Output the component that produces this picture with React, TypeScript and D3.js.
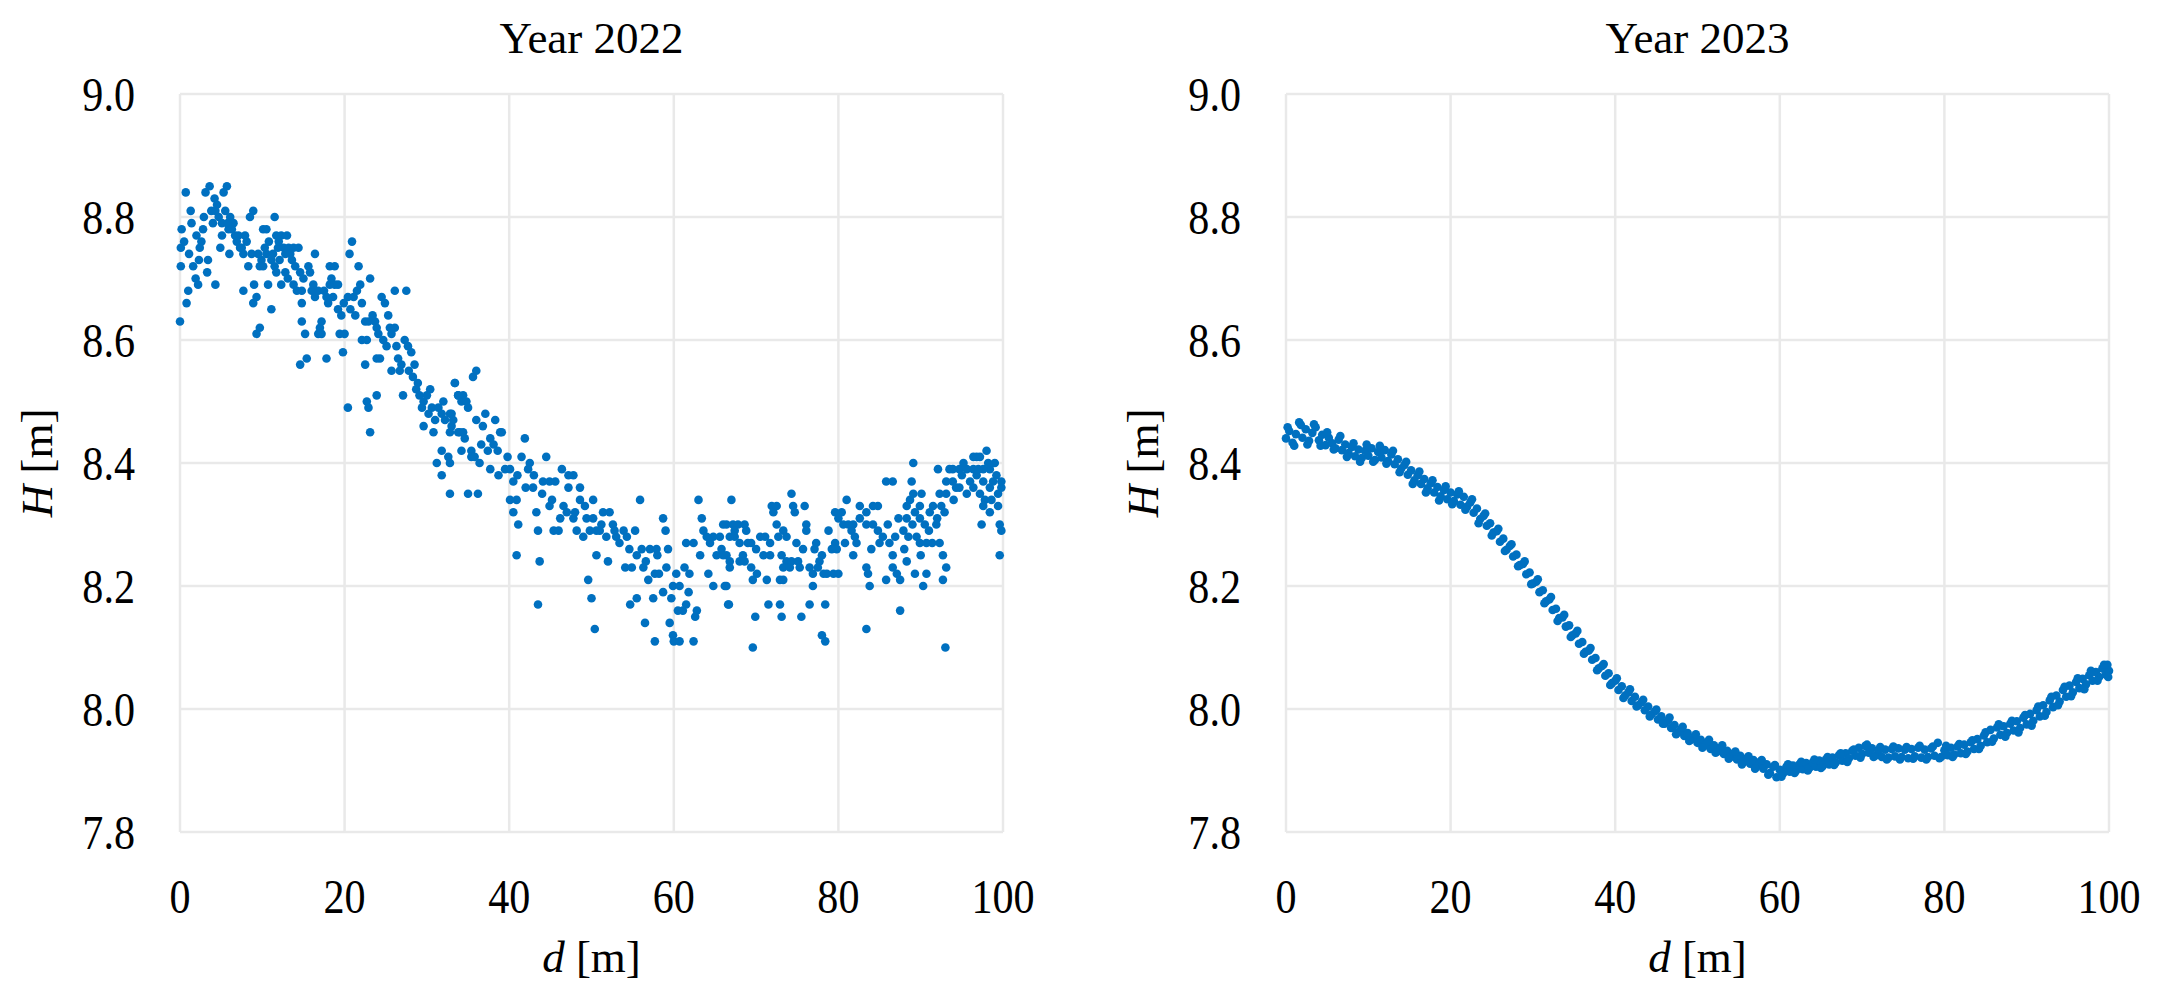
import { scaleLinear } from 'd3'

// Two scatter panels of H [m] against d [m] for 2022 and 2023, Excel-style.

const X_TICKS = [0, 20, 40, 60, 80, 100]
const Y_TICKS = [7.8, 8.0, 8.2, 8.4, 8.6, 8.8, 9.0]

// 2022, d 0–35 m
const H2022_A: [number, number][] = [
  [0.7,8.84],[0,8.63],[0.1,8.72],[0.2,8.78],[0.1,8.75],[0.8,8.66],[1.0,8.68],[1.3,8.81],[1.6,8.72],[1.9,8.70],
  [2.2,8.69],[2.4,8.75],[2.6,8.76],[2.8,8.78],[3.4,8.73],[3.1,8.84],[3.6,8.85],[4.2,8.83],[4.3,8.69],[5.3,8.84],
  [5.7,8.85],[3.8,8.81],[4.3,8.81],[4.7,8.80],[5.1,8.79],[5.5,8.81],[6.1,8.80],[6.5,8.79],[5.1,8.77],[5.9,8.78],
  [6.7,8.77],[7.1,8.77],[7.5,8.75],[7.9,8.77],[7.7,8.74],[7.3,8.75],[8.5,8.80],[8.9,8.81],[7.7,8.68],[9.3,8.67],
  [8.9,8.66],[9.7,8.62],[9.3,8.61],[10.1,8.78],[10.5,8.78],[11.5,8.80],[8.3,8.72],[9.7,8.72],[10.1,8.72],[9.9,8.73],
  [10.5,8.74],[11.1,8.73],[11.3,8.74],[11.7,8.77],[12.3,8.77],[13.0,8.77],[11.9,8.75],[12.6,8.75],[13.2,8.75],[13.8,8.75],
  [14.4,8.75],[11.5,8.72],[12.1,8.73],[12.8,8.74],[13.4,8.74],[11.1,8.65],[12.3,8.69],[12.8,8.71],[14.0,8.72],[13.8,8.69],
  [14.2,8.68],[14.8,8.68],[14.8,8.66],[14.8,8.63],[14.6,8.56],[15.4,8.57],[15.6,8.72],[15.8,8.71],[16.4,8.74],[16.0,8.68],
  [16.4,8.67],[16.8,8.68],[17.0,8.62],[17.2,8.63],[16.8,8.61],[17.2,8.61],[17.8,8.57],[15.2,8.61],[17.8,8.67],[18.0,8.66],
  [18.2,8.69],[18.4,8.70],[18.2,8.72],[18.8,8.72],[18.8,8.69],[19.2,8.69],[19.2,8.65],[19.6,8.64],[19.4,8.61],[20.0,8.61],
  [19.8,8.58],[20.4,8.49],[20.9,8.76],[20.6,8.74],[21.7,8.72],[20.4,8.67],[21.1,8.67],[21.5,8.68],[21.9,8.69],[22.1,8.66],
  [22.5,8.63],[22.9,8.63],[22.1,8.60],[22.7,8.60],[22.5,8.56],[22.7,8.50],[22.9,8.49],[23.1,8.45],[23.1,8.70],[23.7,8.63],
  [23.9,8.62],[24.1,8.61],[23.9,8.57],[24.3,8.57],[23.9,8.51],[24.5,8.67],[24.9,8.66],[25.3,8.64],[25.5,8.62],[25.7,8.61],
  [26.1,8.62],[25.7,8.55],[26.1,8.68],[27.5,8.68],[26.5,8.57],[26.9,8.56],[27.3,8.60],[27.7,8.59],[28.1,8.58],[27.1,8.51],
  [28.5,8.56],[28.3,8.54],[28.9,8.53],[29.1,8.51],[29.6,8.50],[29.4,8.49],[30.2,8.48],[30.6,8.49],[30.4,8.52],[29.6,8.46],
  [30.8,8.45],[31.4,8.49],[31.8,8.48],[32.2,8.47],[31.8,8.42],[32.6,8.41],[31.2,8.40],[31.8,8.38],[33.4,8.53],[33.8,8.51],
  [34.2,8.50],[35.0,8.49],[33.0,8.46],[33.8,8.45],[34.6,8.44],[35.6,8.54],[35.4,8.42],
  [2.0,8.77],[2.9,8.80],[4.0,8.79],[4.5,8.82],[5.8,8.79],[6.3,8.78],[6.9,8.76],[8.1,8.76],[8.7,8.74],[9.5,8.74],
  [10.3,8.75],[10.8,8.76],[12.0,8.76],[13.6,8.73],[14.6,8.71],[15.0,8.70],[16.2,8.69],[17.5,8.68],[18.6,8.67],[19.9,8.66],
  [20.7,8.65],[21.3,8.64],[23.4,8.64],[24.7,8.60],[25.1,8.59],[26.3,8.59],[26.7,8.55],[27.8,8.55],[28.7,8.52],[30.0,8.51],
  [31.0,8.47],[32.0,8.50],[32.8,8.48],[1.4,8.79],[2.3,8.73],[3.3,8.71],[0.5,8.76],[1.1,8.74],[4.9,8.75],[6.0,8.74],
  [9.0,8.69],[10.7,8.69],[11.7,8.71],[13.1,8.70],
]

// 2022, d 33–69 m
const H2022_B: [number, number][] = [
  [36.0,8.55],[33.4,8.53],[34.4,8.51],[33.8,8.51],[34.8,8.50],[33.0,8.48],[33.2,8.47],[32.8,8.45],[34.0,8.45],[34.4,8.45],
  [34.2,8.42],[36.0,8.47],[37.1,8.48],[38.3,8.47],[36.8,8.46],[37.7,8.44],[38.1,8.43],[38.9,8.45],[39.1,8.45],[35.4,8.41],
  [36.4,8.40],[35.8,8.41],[32.8,8.40],[32.8,8.35],[35.0,8.35],[36.2,8.35],[37.7,8.39],[38.7,8.38],[39.5,8.39],[40.1,8.39],
  [40.5,8.37],[41.5,8.41],[41.9,8.44],[42.5,8.40],[42.3,8.39],[40.9,8.34],[40.1,8.34],[40.5,8.32],[41.1,8.30],[40.9,8.25],
  [43.7,8.24],[43.5,8.17],[42.9,8.36],[43.3,8.32],[43.5,8.29],[44.5,8.41],[44.1,8.37],[44.9,8.37],[45.6,8.37],[44.9,8.33],
  [45.4,8.29],[46.0,8.29],[46.4,8.39],[47.2,8.38],[47.8,8.38],[47.2,8.36],[46.6,8.33],[47.0,8.32],[47.8,8.31],[48.6,8.34],
  [48.6,8.36],[48.2,8.29],[49.0,8.28],[50.2,8.34],[49.4,8.31],[50.2,8.31],[51.4,8.32],[52.2,8.32],[49.8,8.29],[50.6,8.29],
  [51.2,8.30],[51.8,8.28],[53.0,8.28],[53.9,8.29],[54.3,8.28],[52.6,8.30],[49.6,8.21],[50.0,8.18],[50.4,8.13],[50.6,8.25],
  [52.0,8.24],[55.9,8.34],[55.3,8.29],[54.1,8.23],[54.9,8.23],[55.5,8.25],[56.1,8.26],[56.3,8.23],[57.1,8.26],[57.9,8.26],
  [56.9,8.21],[57.7,8.22],[54.7,8.17],[55.5,8.18],[57.5,8.18],[58.7,8.19],[56.5,8.14],[57.7,8.11],[58.7,8.31],[59.0,8.29],
  [59.3,8.26],[59.1,8.23],[59.9,8.20],[60.7,8.20],[59.7,8.18],[59.5,8.14],[59.9,8.12],[60.0,8.11],[60.7,8.11],[60.5,8.16],
  [61.1,8.16],[61.5,8.17],[62.4,8.11],[62.6,8.15],[62.8,8.16],[61.3,8.23],[61.9,8.22],[61.5,8.27],[62.4,8.27],[63.0,8.34],
  [63.6,8.29],[64.0,8.28],[64.8,8.28],[63.4,8.31],[64.2,8.22],[64.8,8.20],[65.2,8.25],[66.4,8.30],[67.0,8.34],[66.4,8.25],
  [66.8,8.23],[66.4,8.20],[66.7,8.17],[68.0,8.27],[68.4,8.25],[68.8,8.29],[69.0,8.27],
  [37.4,8.42],[39.8,8.41],[41.0,8.38],[43.0,8.38],[44.0,8.35],[45.2,8.34],[46.2,8.31],[48.0,8.32],[49.2,8.33],[51.0,8.29],
  [52.8,8.29],[53.4,8.27],[54.6,8.26],[56.6,8.24],[58.2,8.22],[58.0,8.25],[60.3,8.22],[61.8,8.19],[63.2,8.25],[64.4,8.27],
  [65.8,8.26],[67.4,8.28],[38.6,8.42],[42.0,8.36],[36.6,8.43],
]

// 2022, d 65–100 m
const H2022_C: [number, number][] = [
  [65.6,8.28],[66.0,8.30],[67.2,8.30],[67.8,8.30],[68.6,8.30],[66.8,8.28],[67.4,8.29],[66.0,8.25],[66.8,8.24],[68.0,8.24],
  [68.6,8.24],[69.4,8.27],[70.5,8.28],[71.1,8.28],[71.7,8.27],[69.4,8.23],[70.1,8.22],[71.3,8.21],[66.2,8.20],[69.6,8.21],
  [66.6,8.17],[69.9,8.15],[69.6,8.10],[71.9,8.33],[72.5,8.33],[72.1,8.32],[72.5,8.30],[73.3,8.29],[72.7,8.28],[73.7,8.28],
  [70.9,8.25],[71.7,8.25],[73.1,8.25],[73.7,8.24],[74.3,8.24],[75.1,8.24],[73.3,8.23],[74.1,8.23],[72.9,8.21],[73.3,8.21],
  [71.5,8.17],[72.9,8.17],[73.1,8.15],[75.5,8.15],[74.5,8.33],[74.7,8.32],[74.3,8.35],[75.9,8.33],[76.1,8.30],[76.1,8.29],
  [74.9,8.27],[75.3,8.23],[76.5,8.23],[76.9,8.22],[77.3,8.27],[77.1,8.26],[76.5,8.17],[76.9,8.20],[77.7,8.24],[77.5,8.23],
  [78.2,8.22],[78.6,8.22],[79.4,8.22],[80.0,8.22],[78.4,8.17],[78.0,8.12],[78.4,8.11],[78.8,8.29],[79.6,8.27],[79.2,8.26],
  [79.8,8.26],[79.6,8.32],[80.4,8.32],[81.0,8.34],[80.0,8.31],[80.6,8.30],[81.2,8.30],[81.8,8.30],[81.6,8.29],[82.2,8.27],
  [81.8,8.25],[82.6,8.33],[82.6,8.31],[83.4,8.32],[84.2,8.33],[84.8,8.33],[83.4,8.30],[84.2,8.30],[84.8,8.29],[85.4,8.28],
  [83.4,8.23],[83.6,8.22],[83.8,8.20],[83.4,8.13],[85.8,8.37],[86.6,8.37],[86.0,8.30],[86.2,8.27],[86.6,8.25],[86.6,8.23],
  [87.1,8.22],[85.8,8.21],[87.5,8.21],[87.5,8.16],[87.9,8.29],[88.3,8.31],[88.3,8.33],[88.7,8.34],[89.1,8.35],[88.9,8.37],
  [89.1,8.40],[88.3,8.24],[88.5,8.28],[89.3,8.32],[89.9,8.33],[89.9,8.31],[90.5,8.30],[89.5,8.28],[89.9,8.27],[90.7,8.27],
  [89.3,8.22],[90.7,8.22],[90.3,8.20],[90.1,8.35],[91.1,8.32],[91.5,8.33],[91.9,8.30],[92.3,8.27],[92.7,8.25],[93.1,8.23],
  [92.7,8.21],[93.0,8.10],[92.1,8.39],[92.3,8.35],[93.1,8.35],[92.5,8.33],[92.9,8.32],[93.1,8.37],[93.5,8.39],[93.9,8.39],
  [93.9,8.37],[94.3,8.36],[94.7,8.36],[95.6,8.35],[94.7,8.39],[95.6,8.39],[96.4,8.41],[96.8,8.41],[97.2,8.41],[98.0,8.42],
  [96.4,8.39],[96.8,8.38],[97.6,8.37],[96.4,8.36],[97.2,8.35],[97.8,8.34],[98.4,8.36],[98.8,8.37],[97.6,8.33],[98.4,8.32],
  [99.2,8.38],[99.8,8.37],[99.4,8.35],[99.8,8.36],[99.4,8.33],[99.6,8.30],[99.8,8.29],[99.6,8.25],[97.4,8.30],[98.4,8.39],
  [97.6,8.39],
  [85.0,8.27],[86.9,8.28],[87.3,8.31],[88.0,8.26],[89.0,8.30],[90.0,8.25],[91.0,8.29],[91.4,8.27],[92.0,8.31],[94.0,8.34],
  [95.0,8.38],[95.2,8.40],[96.0,8.37],[97.0,8.39],[98.2,8.40],[99.0,8.40],[98.6,8.34],[82.0,8.28],[84.0,8.26],[80.8,8.27],
  [70.0,8.26],[75.7,8.26],[78.0,8.25],
]

// 2023, d 0–50 m
const H2023_A: [number, number][] = [
  [0.0,8.440],[0.4,8.452],[0.8,8.433],[1.2,8.447],[1.6,8.466],[2.0,8.441],[2.4,8.455],[2.8,8.436],[3.2,8.449],[3.6,8.458],
  [4.0,8.437],[4.4,8.446],[4.8,8.429],[5.2,8.441],[5.6,8.432],[6.0,8.424],[6.4,8.438],[6.8,8.421],[7.2,8.430],[7.6,8.416],
  [8.0,8.426],[8.4,8.411],[8.8,8.422],[9.2,8.408],[9.6,8.420],[10.0,8.412],[10.4,8.424],[10.8,8.405],[11.2,8.418],[11.6,8.409],
  [12.0,8.421],[12.4,8.403],[12.8,8.414],[13.2,8.398],[13.6,8.406],[14.0,8.391],[14.4,8.397],[14.8,8.381],[15.2,8.388],[15.6,8.372],
  [16.0,8.380],[16.4,8.366],[16.8,8.374],[17.2,8.359],[17.6,8.367],[18.0,8.352],[18.4,8.361],[18.8,8.346],[19.2,8.356],[19.6,8.341],
  [20.0,8.352],[20.4,8.338],[20.8,8.349],[21.2,8.332],[21.6,8.345],[22.0,8.329],[22.4,8.336],[22.8,8.319],[23.2,8.326],[23.6,8.309],
  [24.0,8.314],[24.4,8.298],[24.8,8.302],[25.2,8.287],[25.6,8.289],[26.0,8.272],[26.4,8.277],[26.8,8.259],[27.2,8.265],[27.6,8.248],
  [28.0,8.251],[28.4,8.234],[28.8,8.236],[29.2,8.219],[29.6,8.222],[30.0,8.204],[30.4,8.207],[30.8,8.190],[31.2,8.193],[31.6,8.175],
  [32.0,8.178],[32.4,8.161],[32.8,8.163],[33.2,8.148],[33.6,8.149],[34.0,8.134],[34.4,8.136],[34.8,8.120],[35.2,8.123],[35.6,8.106],
  [36.0,8.109],[36.4,8.093],[36.8,8.095],[37.2,8.080],[37.6,8.083],[38.0,8.066],[38.4,8.070],[38.8,8.054],[39.2,8.058],[39.6,8.042],
  [40.0,8.046],[40.4,8.031],[40.8,8.037],[41.2,8.022],[41.6,8.027],[42.0,8.013],[42.4,8.020],[42.8,8.006],[43.2,8.011],[43.6,7.998],
  [44.0,8.004],[44.4,7.991],[44.8,7.996],[45.2,7.983],[45.6,7.988],[46.0,7.976],[46.4,7.981],[46.8,7.969],[47.2,7.974],[47.6,7.962],
  [48.0,7.967],[48.4,7.956],[48.8,7.961],[49.2,7.950],[49.6,7.955],
]

// 2023, d 50–100 m
const H2023_B: [number, number][] = [
  [50.0,7.945],[50.4,7.950],[50.8,7.940],[51.2,7.945],[51.6,7.935],[52.0,7.941],[52.4,7.931],[52.8,7.936],[53.2,7.927],[53.6,7.932],
  [54.0,7.922],[54.4,7.928],[54.8,7.918],[55.2,7.924],[55.6,7.914],[56.0,7.920],[56.4,7.911],[56.8,7.917],[57.2,7.907],[57.6,7.914],
  [58.0,7.903],[58.4,7.910],[58.8,7.896],[59.2,7.906],[59.6,7.889],[60.0,7.901],[60.4,7.895],[60.8,7.906],[61.2,7.898],[61.6,7.908],
  [62.0,7.900],[62.4,7.910],[62.8,7.902],[63.2,7.912],[63.6,7.904],[64.0,7.913],[64.4,7.906],[64.8,7.916],[65.2,7.907],[65.6,7.918],
  [66.0,7.910],[66.4,7.921],[66.8,7.913],[67.2,7.925],[67.6,7.916],[68.0,7.928],[68.4,7.920],[68.8,7.932],[69.2,7.924],[69.6,7.937],
  [70.0,7.927],[70.4,7.940],[70.8,7.929],[71.2,7.936],[71.6,7.924],[72.0,7.933],[72.4,7.922],[72.8,7.934],[73.2,7.921],[73.6,7.935],
  [74.0,7.923],[74.4,7.936],[74.8,7.922],[75.2,7.934],[75.6,7.920],[76.0,7.935],[76.4,7.923],[76.8,7.937],[77.2,7.921],[77.6,7.934],
  [78.0,7.922],[78.4,7.936],[78.8,7.924],[79.2,7.945],[79.6,7.922],[80.0,7.933],[80.4,7.925],[80.8,7.937],[81.2,7.926],[81.6,7.939],
  [82.0,7.928],[82.4,7.942],[82.8,7.931],[83.2,7.946],[83.6,7.935],[84.0,7.951],[84.4,7.940],[84.8,7.957],[85.2,7.946],[85.6,7.966],
  [86.0,7.952],[86.4,7.970],[86.8,7.958],[87.2,7.972],[87.6,7.961],[88.0,7.976],[88.4,7.965],[88.8,7.980],[89.2,7.969],[89.6,7.986],
  [90.0,7.975],[90.4,7.992],[90.8,7.981],[91.2,7.998],[91.6,7.988],[92.0,8.006],[92.4,7.995],[92.8,8.014],[93.2,8.003],[93.6,8.022],
  [94.0,8.012],[94.4,8.031],[94.8,8.020],[95.2,8.038],[95.6,8.027],[96.0,8.044],[96.4,8.034],[96.8,8.049],[97.2,8.040],[97.6,8.055],
  [98.0,8.046],[98.4,8.060],[98.8,8.052],[99.2,8.066],[99.6,8.056],[100.0,8.062],[99.8,8.072],
]

// 2023, points at the upper and lower edges of the band
const H2023_EDGE: [number, number][] = [
  [0.2,8.458],[1.0,8.428],[1.8,8.462],[2.6,8.430],[3.4,8.463],[4.2,8.428],[5.0,8.450],[5.8,8.422],[6.6,8.444],[7.4,8.410],
  [8.2,8.432],[9.0,8.402],[9.8,8.430],[10.6,8.402],[11.4,8.428],[12.2,8.399],[13.0,8.420],[13.8,8.385],[14.6,8.402],[15.4,8.366],
  [16.2,8.386],[17.0,8.352],[17.8,8.372],[18.6,8.339],[19.4,8.362],[20.2,8.333],[21.0,8.354],[21.8,8.324],[22.6,8.341],[23.4,8.302],
  [24.2,8.318],[25.0,8.282],[25.8,8.293],[26.6,8.257],[27.4,8.268],[28.2,8.232],[29.0,8.240],[29.8,8.203],[30.6,8.211],[31.4,8.172],
  [32.2,8.182],[33.0,8.143],[33.8,8.153],[34.6,8.117],[35.4,8.127],[36.2,8.090],[37.0,8.099],[37.8,8.063],[38.6,8.073],[39.4,8.039],
  [40.2,8.050],[41.0,8.018],[41.8,8.032],[42.6,8.004],[43.4,8.015],[44.2,7.988],[45.0,7.999],[45.8,7.976],[46.6,7.986],[47.4,7.959],
  [48.2,7.971],[49.0,7.948],[49.8,7.959],[50.6,7.937],[51.4,7.950],[52.2,7.929],[53.0,7.941],[53.8,7.919],[54.6,7.931],[55.4,7.910],
  [56.2,7.923],[57.0,7.903],[57.8,7.917],[58.6,7.893],[59.4,7.909],[60.2,7.890],[61.0,7.910],[61.8,7.896],[62.6,7.914],[63.4,7.900],
  [64.2,7.918],[65.0,7.904],[65.8,7.922],[66.6,7.909],[67.4,7.928],[68.2,7.914],[69.0,7.934],[69.8,7.921],[70.6,7.942],[71.4,7.922],
  [72.2,7.938],[73.0,7.918],[73.8,7.939],[74.6,7.918],[75.4,7.938],[76.2,7.919],[77.0,7.940],[77.8,7.918],[78.6,7.939],[79.4,7.920],
  [80.2,7.940],[81.0,7.922],[81.8,7.943],[82.6,7.927],[83.4,7.949],[84.2,7.935],[85.0,7.962],[85.8,7.947],[86.6,7.975],[87.4,7.955],
  [88.2,7.981],[89.0,7.962],[89.8,7.990],[90.6,7.973],[91.4,8.004],[92.2,7.989],[93.0,8.020],[93.8,8.006],[94.6,8.036],[95.4,8.021],
  [96.2,8.050],[97.0,8.032],[97.8,8.062],[98.6,8.046],[99.4,8.072],[99.9,8.052],
]

const FONT = '"Liberation Serif", "Times New Roman", serif'
const DOT = '#0070C0'
const GRID = '#e9e9e9'
const TOP = 94
const BOTTOM = 832
const SQUEEZE = 0.86

interface PanelProps {
  title: string
  points: [number, number][]
  left: number
  right: number
}

function Panel({ title, points, left, right }: PanelProps) {
  const x = scaleLinear().domain([0, 100]).range([left, right])
  const y = scaleLinear().domain([7.8, 9.0]).range([BOTTOM, TOP])
  const midX = (left + right) / 2

  return (
    <g>
      {Y_TICKS.map((t) => (
        <line key={`h${t}`} x1={left} x2={right} y1={y(t)} y2={y(t)} stroke={GRID} strokeWidth={2.5} />
      ))}
      {X_TICKS.map((t) => (
        <line key={`v${t}`} x1={x(t)} x2={x(t)} y1={TOP} y2={BOTTOM} stroke={GRID} strokeWidth={2.5} />
      ))}

      {points.map(([d, h], i) => (
        <circle key={i} cx={x(d)} cy={y(h)} r={4.3} fill={DOT} />
      ))}

      {Y_TICKS.map((t) => (
        <g key={`yl${t}`} transform={`translate(${left - 45}, ${y(t)}) scale(${SQUEEZE}, 1)`}>
          <text textAnchor="end" dy="0.34em" fontSize={49} fontFamily={FONT} fill="#000">
            {t.toFixed(1)}
          </text>
        </g>
      ))}
      {X_TICKS.map((t) => (
        <g key={`xl${t}`} transform={`translate(${x(t)}, 913) scale(${SQUEEZE}, 1)`}>
          <text textAnchor="middle" fontSize={49} fontFamily={FONT} fill="#000">
            {t}
          </text>
        </g>
      ))}

      <text x={midX} y={53} textAnchor="middle" fontSize={45} fontFamily={FONT} fill="#000">
        {title}
      </text>
      <text x={midX} y={972} textAnchor="middle" fontSize={45} fontFamily={FONT} fill="#000">
        <tspan fontStyle="italic">d</tspan> [m]
      </text>
      <text
        transform={`translate(${left - 128}, ${(TOP + BOTTOM) / 2}) rotate(-90)`}
        textAnchor="middle"
        fontSize={45}
        fontFamily={FONT}
        fill="#000"
      >
        <tspan fontStyle="italic">H</tspan> [m]
      </text>
    </g>
  )
}

export default function App() {
  const pts2022 = [...H2022_A, ...H2022_B, ...H2022_C]
  const pts2023 = [...H2023_A, ...H2023_B, ...H2023_EDGE]
  return (
    <div style={{ position: 'fixed', left: 0, top: 0, width: 2163, height: 999, background: '#fff' }}>
      <svg width={2163} height={999} viewBox="0 0 2163 999">
        <rect width={2163} height={999} fill="#fff" />
        <Panel title="Year 2022" points={pts2022} left={180} right={1003} />
        <Panel title="Year 2023" points={pts2023} left={1286} right={2109} />
      </svg>
    </div>
  )
}
